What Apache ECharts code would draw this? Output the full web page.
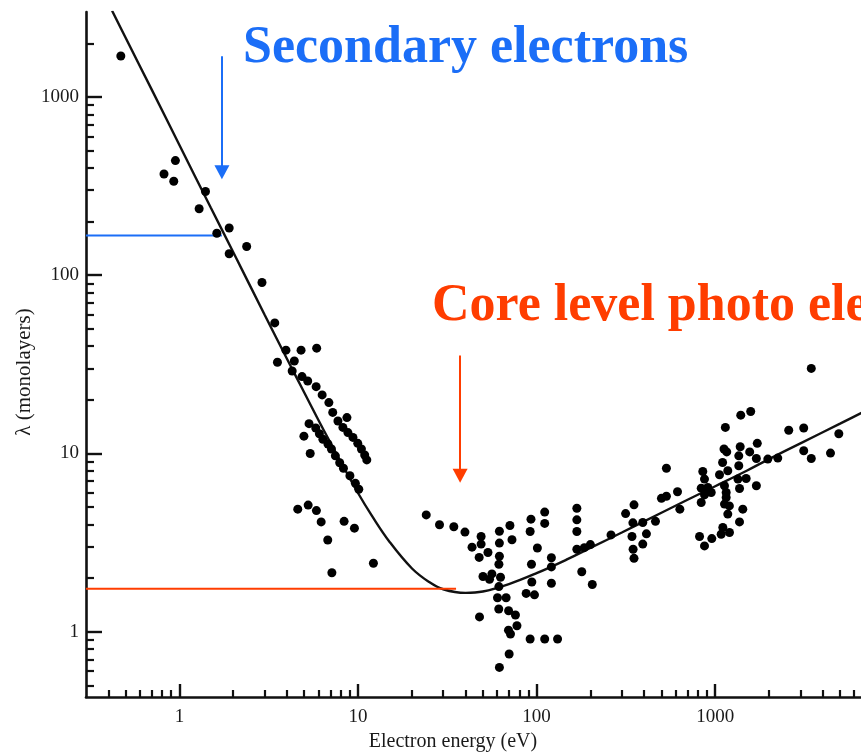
<!DOCTYPE html>
<html><head><meta charset="utf-8">
<script src="https://cdn.jsdelivr.net/npm/echarts@6/dist/echarts.min.js"></script>
<style>html,body{margin:0;padding:0;background:#fff}#c{width:861px;height:755px}</style>
</head><body><div id="c"></div>
<script>
// Measured points [energy eV, lambda monolayers]
const dotsSecondary = [[0.47,1700],[0.95,440],[0.82,370],[0.93,337],[1.40,295],[1.29,236],[1.62,172],[1.90,184],[1.90,132],[2.38,145],[2.90,91],[3.42,54],
 [3.95,38],[4.8,38],[5.87,39],[3.54,32.5],[4.4,33],[4.28,29],[4.86,27],[5.23,25.5],[5.83,23.7],[6.3,21.3],[6.87,19.3],[7.22,17],[8.67,15.9],
 [7.72,15.2],[8.23,14],[8.78,13.1],[9.37,12.3],[9.97,11.4],[10.45,10.6],[10.9,9.8],[11.2,9.2],
 [5.32,14.7],[4.98,12.5],[5.4,10],[5.8,13.9],[6.08,12.9],[6.36,12],[6.79,11.3],[7.1,10.6],[7.47,9.7],[7.9,8.87],[8.29,8.26],[9.01,7.5],[9.67,6.8],[10.1,6.3],
 [4.6,4.87],[5.26,5.13],[5.85,4.78],[6.22,4.13],[6.77,3.27],[7.14,2.14],[8.36,4.16],[9.55,3.81],[12.2,2.42]];
const dotsMiddle = [[24.1,4.52],[28.6,3.98],[34.4,3.88],[39.7,3.62],[48.9,3.42],[48.9,3.10],[43.5,2.98],[53.4,2.78],[47.7,2.61],[61.9,3.66],[70.9,3.94],[72.8,3.28],[61.9,3.14],[61.9,2.65],[61.5,2.39],[50.1,2.04],[56.2,2.11],[54.5,1.97],[62.8,2.02],[61.5,1.79],[60.4,1.55],[67.5,1.55],[61.4,1.34],[69.7,1.31],[76.1,1.24],[47.9,1.21],[77.6,1.08],[69.6,1.02],[71.4,0.97],[70.2,0.75],[61.9,0.63],[92,0.91],[111,0.91],[131,0.91],[93,4.28],[111,4.69],[111,4.05],[92,3.65],[101,2.95],[93.6,2.39],[121,2.60],[121,2.31],[94,1.90],[121,1.87],[87.4,1.64],[97.3,1.61]];
const dotsHigh = [[168,4.93],[168,4.24],[168,3.65],[168,2.90],[185,2.96],[200,3.08],[179,2.17],[205,1.84],[261,3.49],[315,4.60],[351,5.15],[346,4.08],[393,4.10],[342,3.42],[412,3.54],[393,3.10],[347,2.90],[351,2.58],[463,4.16],[500,5.6],[533,5.75],[533,8.26],[615,6.1],[634,4.87],
 [3450,30],[1390,16.4],[1580,17.2],[1140,14],[2580,13.5],[3130,13.9],[4920,12.9],[1720,11.4],[1380,10.9],[1120,10.6],[1160,10.2],[1560,10.2],[1355,9.7],[1700,9.37],[1970,9.3],[2240,9.42],[3130,10.35],[3450,9.37],[4420,10.05],[1355,8.53],[1100,8.9],[852,7.92],[1057,7.59],[1176,8.0],[1490,7.24],[1340,7.18],[1700,6.59],[871,7.18],[909,6.44],[835,6.39],[950,6.04],[871,5.86],[1127,6.59],[1152,6.04],[1368,6.36],[1152,5.66],[1127,5.2],[1200,5.08],[835,5.31],[1176,4.57],[1427,4.87],[1368,4.13],[1103,3.84],[1202,3.6],[1080,3.52],[817,3.42],[957,3.33],[871,3.03]];
// Universal curve
const curveEnergy = [0.42,0.5,0.7,1,1.5,2,3,4,5,6,7,8,10,12,15,20,25,30,40,50,70,100,150,200,300,500,700,1000,1500,2000,3000,5000,7000,10000];
const curveLambda = [3050,2150,1100,538,239,135,60,34,22,15.4,11.5,9.0,6.0,4.45,3.2,2.27,1.9,1.73,1.65,1.68,1.85,2.13,2.56,2.95,3.6,4.65,5.5,6.55,8.0,9.3,11.4,14.7,17.4,20.7];
// Tick values
const xMajorTicks = [1,10,100,1000];
const xMinorTicks = [0.4,0.5,0.6,0.7,0.8,0.9,2,3,4,5,6,7,8,9,20,30,40,50,60,70,80,90,200,300,400,500,600,700,800,900,2000,3000,4000,5000,6000];
const yMajorTicks = [1,10,100,1000];
const yMinorTicks = [0.5,0.6,0.7,0.8,0.9,2,3,4,5,6,7,8,9,20,30,40,50,60,70,80,90,200,300,400,500,600,700,800,900,2000];
// Annotation guides [energy, lambda]
const blueLevel = [[0.3,167],[1.73,167]];
const redLevel = [[0.3,1.74],[35.4,1.74]];
const blueArrow = [[1.73,1693],[1.73,378]];
const redArrow = [[37.3,35.4],[37.3,7.5]];

const FONT = '"Liberation Serif", "Times New Roman", serif';
const BLUE = '#1B6EF7', RED = '#FF3D00';
const X_MIN = 0.3, X_MAX = 6550, Y_MIN = 0.43, Y_MAX = 3000;

const chart = echarts.init(document.getElementById('c'));
const axisLineStyle = {color:'#111', width:2.6};
function majorAxis(dir, ticks, tickLen, margin){
  return {
    type:'log', logBase:10, min: dir==='x'?X_MIN:Y_MIN, max: dir==='x'?X_MAX:Y_MAX,
    position: dir==='x'?'bottom':'left',
    axisLine:{show:true, onZero:false, lineStyle:axisLineStyle},
    axisTick:{show:true, inside:true, length:tickLen, customValues:ticks, lineStyle:{color:'#111', width:2.4}},
    axisLabel:{show:true, customValues:ticks, margin:margin, color:'#1a1a1a', fontFamily:FONT, fontSize:19,
      formatter: v => String(Math.round(v))},
    splitLine:{show:false}, minorTick:{show:false}
  };
}
function minorAxis(dir, ticks, tickLen){
  return {
    type:'log', logBase:10, min: dir==='x'?X_MIN:Y_MIN, max: dir==='x'?X_MAX:Y_MAX,
    position: dir==='x'?'bottom':'left',
    axisLine:{show:false, onZero:false},
    axisTick:{show:true, inside:true, length:tickLen, customValues:ticks, lineStyle:{color:'#111', width:2.2}},
    axisLabel:{show:false}, splitLine:{show:false}
  };
}
const arrowMark = (pts, color) => ({
  silent:true, symbol:['none','triangle'], symbolSize:[15,14],
  lineStyle:{color:color, width:2, type:'solid'}, label:{show:false},
  itemStyle:{color:color},
  data:[[{coord:pts[0]},{coord:pts[1]}]]
});

chart.setOption({
  animation:false,
  backgroundColor:'#fff',
  grid:{left:86, top:12, right:0, height:685, containLabel:false},
  xAxis:[majorAxis('x', xMajorTicks, 13, 11), minorAxis('x', xMinorTicks, 7)],
  yAxis:[majorAxis('y', yMajorTicks, 16, 7), minorAxis('y', yMinorTicks, 8)],
  series:[
    {type:'line', data:curveEnergy.map((e,i)=>[e,curveLambda[i]]), smooth:0.4, showSymbol:false,
     lineStyle:{color:'#111', width:2.4}, clip:true, z:2},
    {type:'line', data:blueLevel, showSymbol:false, lineStyle:{color:BLUE, width:2}, z:3},
    {type:'line', data:redLevel, showSymbol:false, lineStyle:{color:RED, width:2}, z:3},
    {type:'line', data:[], markLine:arrowMark(blueArrow, BLUE)},
    {type:'line', data:[], markLine:arrowMark(redArrow, RED)},
    {type:'scatter', data:dotsSecondary.concat(dotsMiddle, dotsHigh), symbolSize:9,
     itemStyle:{color:'#000', opacity:1}, z:4}
  ],
  graphic:[
    {type:'text', x:243, y:49, style:{text:'Secondary electrons', fill:BLUE, fontFamily:FONT, fontWeight:'bold', fontSize:52, align:'left', verticalAlign:'middle'}},
    {type:'text', x:432, y:307, style:{text:'Core level photo electrons', fill:RED, fontFamily:FONT, fontWeight:'bold', fontSize:52, align:'left', verticalAlign:'middle'}},
    {type:'text', x:453, y:742, style:{text:'Electron energy (eV)', fill:'#1a1a1a', fontFamily:FONT, fontSize:20, align:'center', verticalAlign:'middle'}},
    {type:'text', x:24, y:372, rotation:Math.PI/2, style:{text:'λ (monolayers)', fill:'#1a1a1a', fontFamily:FONT, fontSize:21, align:'center', verticalAlign:'middle'}}
  ]
});
</script></body></html>
